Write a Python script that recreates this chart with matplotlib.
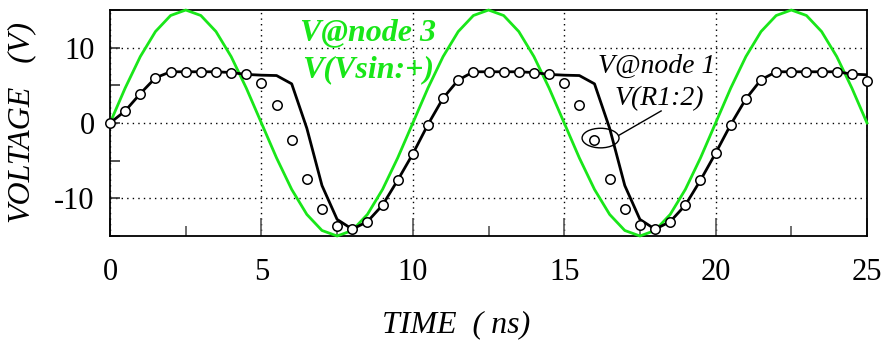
import matplotlib
matplotlib.use("Agg")
import matplotlib.pyplot as plt
from matplotlib.patches import Ellipse
from matplotlib.ticker import MultipleLocator

## sample times (ns), 0.5 ns steps
time = [i * 0.5 for i in range(51)]

## V@node 3 / V(Vsin:+)  (green)
v_sin = [0, 4.64, 8.82, 12.14, 14.27, 15, 14.27, 12.14, 8.82, 4.64,
         0, -4.64, -8.82, -12.14, -14.27, -15, -14.27, -12.14, -8.82, -4.64,
         0, 4.64, 8.82, 12.14, 14.27, 15, 14.27, 12.14, 8.82, 4.64,
         0, -4.64, -8.82, -12.14, -14.27, -15, -14.27, -12.14, -8.82, -4.64,
         0, 4.64, 8.82, 12.14, 14.27, 15, 14.27, 12.14, 8.82, 4.64, 0]

## black solid line
v_line = [0, 1.6, 3.9, 6.0, 6.8, 6.8, 6.8, 6.8, 6.7, 6.45,
          6.35, 6.3, 5.2, -0.7, -8.3, -12.8, -14.1, -13.1, -10.9, -7.6,
          -4.1, -0.2, 3.3, 5.7, 6.8, 6.8, 6.8, 6.8, 6.7, 6.45,
          6.35, 6.3, 5.2, -0.7, -8.3, -12.8, -14.1, -13.1, -10.9, -7.6,
          -4.0, -0.2, 3.2, 5.75, 6.8, 6.8, 6.8, 6.8, 6.8, 6.5, 6.4]

## open circles
v_dots = [0, 1.6, 3.9, 6.0, 6.8, 6.8, 6.8, 6.8, 6.7, 6.45,
          5.35, 2.45, -2.3, -7.4, -11.4, -13.7, -14.1, -13.1, -10.9, -7.6,
          -4.1, -0.2, 3.3, 5.7, 6.8, 6.8, 6.8, 6.8, 6.7, 6.5,
          5.35, 2.45, -2.3, -7.4, -11.4, -13.6, -14.1, -13.1, -10.9, -7.6,
          -4.0, -0.2, 3.2, 5.75, 6.8, 6.8, 6.8, 6.8, 6.8, 6.5, 5.6]

plt.rcParams["axes.unicode_minus"] = False
serif = ["Liberation Serif", "DejaVu Serif"]
green = "#19e619"

fig = plt.figure(figsize=(8.83, 3.43), dpi=100)
ax = fig.add_axes([0.1246, 0.312, 0.8573, 0.6588])

ax.plot(time, v_sin, color=green, lw=2.0, zorder=3, clip_on=False)
ax.plot(time, v_line, color="black", lw=2.0, zorder=4)
ax.plot(time, v_dots, ls="none", marker="o", ms=6.8, mfc="white",
        mec="black", mew=1.1, zorder=5, clip_on=False)

ax.set_xlim(0, 25)
ax.set_ylim(-15, 15)
ax.set_xticks([0, 5, 10, 15, 20, 25])
ax.set_yticks([-10, 0, 10])
ax.xaxis.set_minor_locator(MultipleLocator(2.5))
ax.yaxis.set_minor_locator(MultipleLocator(5))
ax.tick_params(axis="x", which="major", direction="in", length=13, width=1.2,
               color="#555555", pad=16, labelsize=22)
ax.tick_params(axis="x", which="minor", direction="in", length=7, width=1.2,
               color="#555555")
ax.tick_params(axis="y", which="both", direction="in", length=7, width=1.2,
               color="#333333", pad=11, labelsize=22)
for lab in ax.get_xticklabels() + ax.get_yticklabels():
    lab.set_family(serif)

ax.grid(True, which="major", color="black", ls=(0, (1, 3)), lw=1.0)
for s in ax.spines.values():
    s.set_linewidth(1.3)

ax.set_xlabel("TIME  ( ns)", family=serif, style="italic", fontsize=23)
ax.xaxis.set_label_coords(0.457, -0.33)
ax.set_ylabel("VOLTAGE   (V)", family=serif, style="italic", fontsize=23)
ax.yaxis.set_label_coords(-0.097, 0.5)

ax.text(8.52, 11.05, "V@node 3", color=green, family=serif, style="italic",
        weight="bold", fontsize=23, ha="center", va="baseline", zorder=6)
ax.text(8.52, 6.05, "V(Vsin:+)", color=green, family=serif, style="italic",
        weight="bold", fontsize=23, ha="center", va="baseline", zorder=6)

ax.text(18.05, 6.6, "V@node 1", color="black", family=serif, style="italic",
        fontsize=20, ha="center", va="baseline", zorder=6)
ax.text(18.15, 2.4, "V(R1:2)", color="black", family=serif, style="italic",
        fontsize=20, ha="center", va="baseline", zorder=6)

ax.add_patch(Ellipse((16.2, -2.0), 1.22, 2.6, fill=False, ec="black",
                     lw=1.0, zorder=6))
ax.plot([16.82, 18.2], [-1.6, 1.6], color="black", lw=1.0, zorder=6)

plt.savefig("out.png", dpi=100)
